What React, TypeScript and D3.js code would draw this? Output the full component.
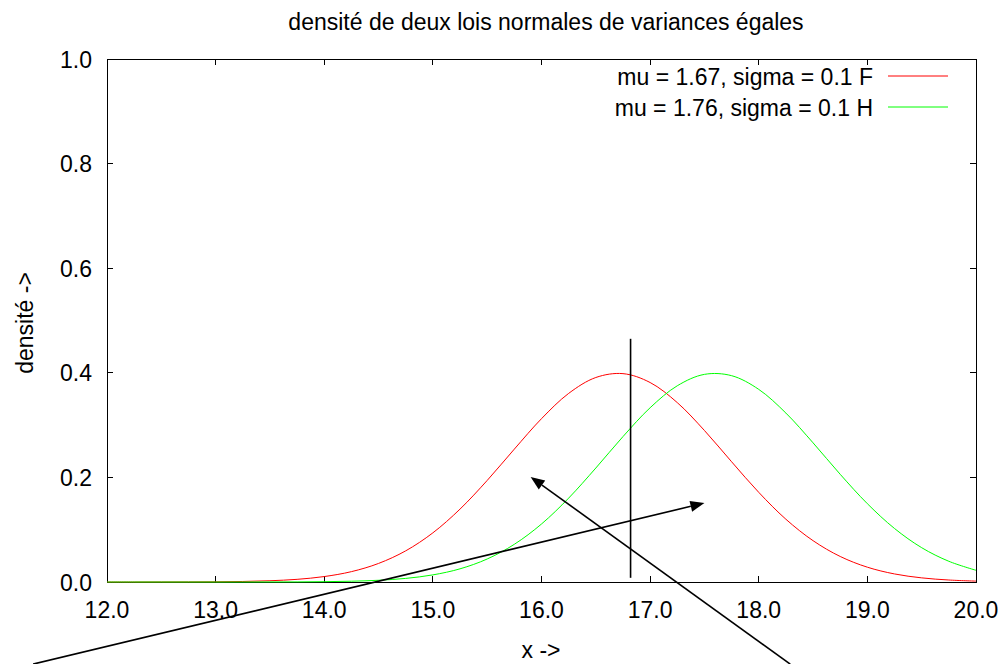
import React, { useRef, useEffect } from 'react';
import * as d3 from 'd3';

// sample points
const xValues = [12, 12.25, 12.5, 12.75, 13, 13.25, 13.5, 13.75, 14, 14.25, 14.5, 14.75, 15, 15.25, 15.5, 15.75, 16,
  16.25, 16.5, 16.75, 17, 17.25, 17.5, 17.75, 18, 18.25, 18.5, 18.75, 19, 19.25, 19.5, 19.75, 20];
const densityF = [0, 0, 0.0001, 0.0002, 0.0004, 0.001, 0.0024, 0.0051, 0.0104, 0.0198, 0.0355, 0.0596, 0.094, 0.1394,
  0.1942, 0.2541, 0.3123, 0.3606, 0.391, 0.3984, 0.3814, 0.343, 0.2897, 0.2299, 0.1714, 0.12, 0.079, 0.0488, 0.0283,
  0.0154, 0.0079, 0.0038, 0.0017];
const densityH = [0, 0, 0, 0, 0, 0, 0.0001, 0.0002, 0.0006, 0.0015, 0.0033, 0.0069, 0.0136, 0.0252, 0.044, 0.0721,
  0.1109, 0.1604, 0.2179, 0.278, 0.3332, 0.3752, 0.397, 0.3945, 0.3683, 0.323, 0.2661, 0.2059, 0.1497, 0.1023, 0.0656,
  0.0396, 0.0224];

const seriesLabels = ['mu = 1.67, sigma = 0.1 F', 'mu = 1.76, sigma = 0.1 H'];
const seriesColors = ['#ff0000', '#00ff00'];

const xTicks = [12, 13, 14, 15, 16, 17, 18, 19, 20];
const yTicks = [0, 0.2, 0.4, 0.6, 0.8, 1.0];

// arrows in data coordinates: [x1, y1, x2, y2]
const arrows = [
  [11.32, -0.157, 17.5, 0.151],
  [18.29, -0.157, 15.9, 0.201],
];
const markerLine = [16.82, 0.008, 16.82, 0.465];

const W = 1003;
const H = 664;
const FONT = '"Liberation Sans", Arial, sans-serif';

const App: React.FC = () => {
  const svgRef = useRef<SVGSVGElement | null>(null);

  useEffect(() => {
    const svg = d3.select(svgRef.current!);
    svg.selectAll('*').remove();

    const x = d3.scaleLinear().domain([12, 20]).range([107, 976]);
    const y = d3.scaleLinear().domain([0, 1]).range([582, 59]);

    // frame
    svg.append('rect')
      .attr('x', 107).attr('y', 59)
      .attr('width', 976 - 107).attr('height', 582 - 59)
      .attr('fill', 'none').attr('stroke', '#000').attr('stroke-width', 1)
      .attr('shape-rendering', 'crispEdges');

    const tickLen = 6;
    const ticks = svg.append('g').attr('stroke', '#000').attr('shape-rendering', 'crispEdges');
    xTicks.forEach((t) => {
      ticks.append('line').attr('x1', x(t)).attr('x2', x(t)).attr('y1', 582).attr('y2', 582 - tickLen);
      ticks.append('line').attr('x1', x(t)).attr('x2', x(t)).attr('y1', 59).attr('y2', 59 + tickLen);
    });
    yTicks.forEach((t) => {
      ticks.append('line').attr('x1', 107).attr('x2', 107 + tickLen).attr('y1', y(t)).attr('y2', y(t));
      ticks.append('line').attr('x1', 976).attr('x2', 976 - tickLen).attr('y1', y(t)).attr('y2', y(t));
    });

    const txt = svg.append('g').attr('font-family', FONT).attr('font-size', 23).attr('fill', '#000');
    txt.selectAll('text.xt')
      .data(xTicks)
      .enter()
      .append('text')
      .attr('x', (d) => x(d))
      .attr('y', 618)
      .attr('text-anchor', 'middle')
      .text((d) => d.toFixed(1));
    txt.selectAll('text.yt')
      .data(yTicks)
      .enter()
      .append('text')
      .attr('x', 92)
      .attr('y', (d) => y(d) + 8.5)
      .attr('text-anchor', 'end')
      .text((d) => d.toFixed(1));

    txt.append('text').attr('x', 546).attr('y', 30).attr('text-anchor', 'middle')
      .text('densité de deux lois normales de variances égales');
    txt.append('text').attr('x', 541).attr('y', 658).attr('text-anchor', 'middle').text('x ->');
    txt.append('text').attr('transform', 'translate(33,323) rotate(-90)').attr('text-anchor', 'middle')
      .text('densité ->');

    // curves
    const line = d3.line<[number, number]>()
      .x((d) => x(d[0]))
      .y((d) => y(d[1]))
      .curve(d3.curveCatmullRom);
    [densityF, densityH].forEach((vals, i) => {
      svg.append('path')
        .datum(xValues.map((v, j) => [v, vals[j]] as [number, number]))
        .attr('d', line)
        .attr('fill', 'none')
        .attr('stroke', seriesColors[i])
        .attr('stroke-width', 1);
    });

    // legend
    seriesLabels.forEach((label, i) => {
      const ly = 76 + i * 31;
      txt.append('text').attr('x', 873).attr('y', ly + 8.5).attr('text-anchor', 'end').text(label);
      svg.append('line')
        .attr('x1', 888).attr('x2', 948).attr('y1', ly).attr('y2', ly)
        .attr('stroke', seriesColors[i]).attr('stroke-width', 1);
    });

    // vertical marker
    svg.append('line')
      .attr('x1', x(markerLine[0])).attr('y1', y(markerLine[1]))
      .attr('x2', x(markerLine[2])).attr('y2', y(markerLine[3]))
      .attr('stroke', '#000').attr('stroke-width', 1.6);

    // arrows
    arrows.forEach(([ax1, ay1, ax2, ay2]) => {
      const px1 = x(ax1), py1 = y(ay1), px2 = x(ax2), py2 = y(ay2);
      const ang = Math.atan2(py2 - py1, px2 - px1);
      const len = 14, half = 5.5;
      const bx = px2 - len * Math.cos(ang), by = py2 - len * Math.sin(ang);
      svg.append('line')
        .attr('x1', px1).attr('y1', py1).attr('x2', bx).attr('y2', by)
        .attr('stroke', '#000').attr('stroke-width', 1.6);
      svg.append('polygon')
        .attr('points', [
          [px2, py2],
          [bx + half * Math.sin(ang), by - half * Math.cos(ang)],
          [bx - half * Math.sin(ang), by + half * Math.cos(ang)],
        ].map((p) => p.join(',')).join(' '))
        .attr('fill', '#000');
    });
  }, []);

  return (
    <svg ref={svgRef} width={W} height={H}
      style={{ position: 'absolute', left: 0, top: 0, background: '#fff' }} />
  );
};

export default App;
